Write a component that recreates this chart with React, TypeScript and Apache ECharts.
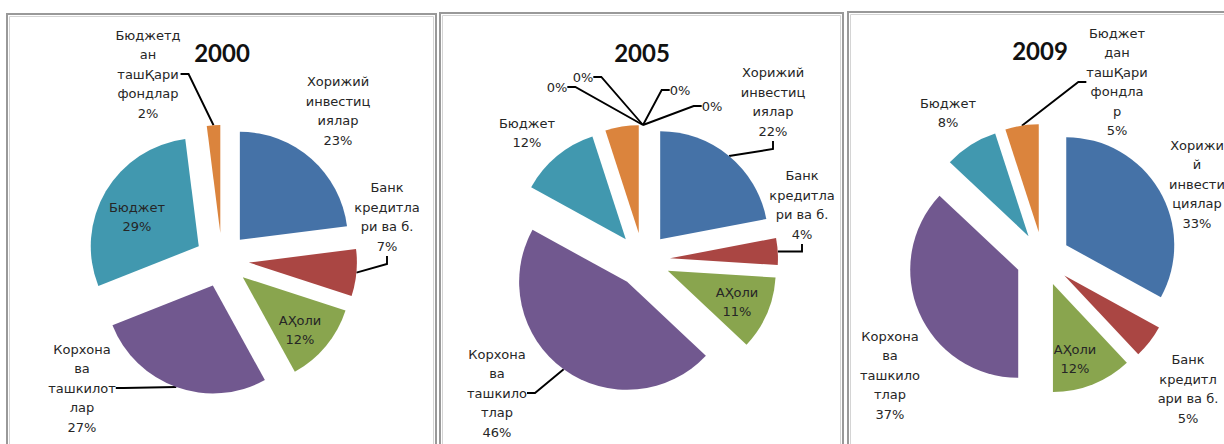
import { useEffect, useRef } from 'react';
import * as echarts from 'echarts';

// ---- data (percent shares) ----
const YEARS = ['2000', '2005', '2009'];
const SHARE_2000 = [23, 7, 12, 27, 29, 2];
const SHARE_2005 = [22, 4, 11, 46, 12, 5, 0, 0, 0, 0];
const SHARE_2009 = [33, 5, 12, 37, 8, 5];

// category names as wrapped in each chart
const NAMES_2000 = ['Хорижий\nинвестиц\nиялар', 'Банк\nкредитла\nри ва б.', 'АҲоли', 'Корхона\nва\nташкилот\nлар', 'Бюджет', 'Бюджетд\nан\nташҚари\nфондлар'];
const NAMES_2005 = ['Хорижий\nинвестиц\nиялар', 'Банк\nкредитла\nри ва б.', 'АҲоли', 'Корхона\nва\nташкило\nтлар', 'Бюджет', 'Бюджетд\nан\nташҚари\nфондлар', '', '', '', ''];
const NAMES_2009 = ['Хорижи\nй\nинвести\nциялар', 'Банк\nкредитл\nари ва б.', 'АҲоли', 'Корхона\nва\nташкило\nтлар', 'Бюджет', 'Бюджет\nдан\nташҚари\nфондла\nр'];

// ---- styles / layout (not data) ----
const COLORS = ['#4572A7', '#AA4643', '#89A54E', '#71588F', '#4198AF', '#DB843D', '#DB843D', '#DB843D', '#DB843D', '#DB843D'];
const RADIUS = 108;
const EXPLODE = 27;
const PANEL_CENTERS = [[222, 260], [643, 260], [1043, 259]];
const TITLE_POS = [[222, 52], [642, 52], [1040, 50]];
const LABEL_XY_2000 = [[338, 111], [387, 217], [300, 330], [82, 388], [137, 217], [148, 74]];
const LABEL_XY_2005 = [[773, 102], [802, 205], [737, 302], [497, 393], [527, 133], [483, 74], [557, 87], [583, 77], [680, 90], [712, 106]];
const LABEL_XY_2009 = [[1197, 184], [1188, 389], [1075, 359], [890, 375], [948, 113], [1117, 82]];
const LEADER_2000 = [false, true, false, true, false, true];
const LEADER_2005 = [true, true, false, true, false, true, true, true, true, true];
const LEADER_2009 = [false, false, false, false, false, true];
const BORDERS = [[7, 14, 429], [440, 13, 403], [848, 12, 400]];

const PANELS = [
  { shares: SHARE_2000, names: NAMES_2000, pos: LABEL_XY_2000, leader: LEADER_2000 },
  { shares: SHARE_2005, names: NAMES_2005, pos: LABEL_XY_2005, leader: LEADER_2005 },
  { shares: SHARE_2009, names: NAMES_2009, pos: LABEL_XY_2009, leader: LEADER_2009 },
];

const LABEL_FONT = 'DejaVu Sans';
const TRANSPARENT = { color: 'rgba(0,0,0,0)', borderWidth: 0 };

function buildSeries() {
  const series: any[] = [];
  PANELS.forEach((p, pi) => {
    const total = p.shares.reduce((a, b) => a + b, 0);
    let before = 0;
    p.shares.forEach((v, i) => {
      const mid = ((before + v / 2) / total) * Math.PI * 2;
      const [cx, cy] = PANEL_CENTERS[pi];
      const center = [cx + EXPLODE * Math.sin(mid), cy - EXPLODE * Math.cos(mid)];
      const after = total - before - v;
      const labelText = (p.names[i] ? p.names[i] + '\n' : '') + v + '%';
      series.push({
        type: 'pie',
        radius: RADIUS,
        center,
        startAngle: 90,
        clockwise: true,
        minAngle: 0,
        avoidLabelOverlap: false,
        silent: true,
        animation: false,
        emphasis: { disabled: true },
        itemStyle: { borderWidth: 0 },
        label: { show: false },
        labelLine: { show: false },
        labelLayout: { x: p.pos[i][0], y: p.pos[i][1], align: 'center', verticalAlign: 'middle' },
        data: [
          { value: before, name: 'a', itemStyle: TRANSPARENT, label: { show: false }, labelLine: { show: false } },
          {
            value: v,
            name: 'b',
            itemStyle: { color: COLORS[i], borderWidth: 0 },
            label: {
              show: true,
              position: 'outside',
              formatter: labelText,
              fontFamily: LABEL_FONT,
              fontSize: 13,
              lineHeight: 19.5,
              color: '#262626',
              align: 'center',
              bleedMargin: -3000,
            },
            labelLine: {
              show: p.leader[i],
              length: 6,
              length2: 8,
              smooth: false,
              lineStyle: { color: '#000', width: 1.9 },
            },
          },
          { value: after, name: 'c', itemStyle: TRANSPARENT, label: { show: false }, labelLine: { show: false } },
        ],
      });
      before += v;
    });
  });
  return series;
}

function buildGraphic() {
  const g: any[] = [];
  BORDERS.forEach(([x, y, w]) => {
    g.push({ type: 'rect', shape: { x, y, width: w, height: 480 }, style: { fill: 'none', stroke: '#999', lineWidth: 2 }, silent: true });
    g.push({ type: 'rect', shape: { x: x + 2.5, y: y + 2.5, width: w - 5, height: 480 }, style: { fill: 'none', stroke: '#d4d4d4', lineWidth: 1 }, silent: true });
  });
  YEARS.forEach((yr, i) => {
    g.push({
      type: 'text',
      x: TITLE_POS[i][0],
      y: TITLE_POS[i][1],
      silent: true,
      style: { text: yr, align: 'center', verticalAlign: 'middle', fill: '#111', font: 'bold 24px Lato, "Liberation Sans", sans-serif' },
    });
  });
  return g;
}

export default function App() {
  const ref = useRef<HTMLDivElement>(null);
  useEffect(() => {
    const chart = echarts.init(ref.current!, null, { renderer: 'svg' });
    chart.setOption({
      animation: false,
      backgroundColor: '#fff',
      series: buildSeries(),
      graphic: buildGraphic(),
    });
    return () => chart.dispose();
  }, []);
  return <div ref={ref} style={{ position: 'absolute', left: 0, top: 0, width: 1224, height: 444, background: '#fff' }} />;
}
